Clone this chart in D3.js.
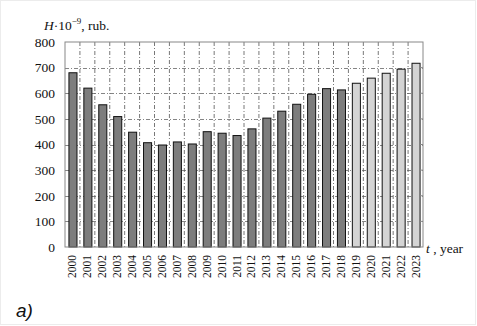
<!DOCTYPE html>
<html>
<head>
<meta charset="utf-8">
<script src="https://cdn.jsdelivr.net/npm/d3@7/dist/d3.min.js"></script>
<style>
  body { margin: 0; background: #fff; }
  svg { display: block; }
  svg text { font-family: "Liberation Serif", "DejaVu Serif", serif; }
  svg text.sans { font-family: "Liberation Sans", "DejaVu Sans", sans-serif; }
</style>
</head>
<body>
<script>
// years on the x axis
var years = ["2000","2001","2002","2003","2004","2005","2006","2007","2008","2009","2010","2011",
             "2012","2013","2014","2015","2016","2017","2018","2019","2020","2021","2022","2023"];
// H * 10^-9, rub.
var values = [680, 620, 555, 509, 448, 407, 398, 410, 402, 450, 444, 435,
              461, 503, 530, 557, 596, 618, 613, 639, 659, 678, 694, 717];
// first forecast year (lighter bars)
var forecastFrom = "2019";
var yTicks = [0, 100, 200, 300, 400, 500, 600, 700, 800];

var W = 477, H = 326;
var margin = {top: 42, right: 54, bottom: 79, left: 65},
    width = W - margin.left - margin.right,
    height = H - margin.top - margin.bottom;

var svg = d3.select("body").append("svg")
    .attr("width", W)
    .attr("height", H);

// faint frame of the picture
svg.append("rect")
    .attr("x", 0.5).attr("y", 0.5)
    .attr("width", W - 2).attr("height", H - 2)
    .attr("fill", "none")
    .attr("stroke", "#ececec");

var g = svg.append("g")
    .attr("transform", "translate(" + margin.left + "," + margin.top + ")");

var x = d3.scaleBand().domain(years).range([0, width]).paddingInner(0.46).paddingOuter(0.23);
var y = d3.scaleLinear().domain([0, 800]).range([height, 0]);

// band boundaries for vertical grid
var step = x.step();
var gridX = d3.range(1, years.length).map(function(i){ return i * step; });

// horizontal grid
g.selectAll(".hgrid")
    .data(yTicks.slice(1, -1))
    .enter().append("line")
    .attr("class", "hgrid")
    .attr("x1", 0).attr("x2", width)
    .attr("y1", function(d){ return Math.round(y(d)) + 0.5; })
    .attr("y2", function(d){ return Math.round(y(d)) + 0.5; })
    .attr("stroke", "#666")
    .attr("stroke-width", 0.8)
    .attr("stroke-dasharray", "4,2,1,2");

// vertical grid
g.selectAll(".vgrid")
    .data(gridX)
    .enter().append("line")
    .attr("class", "vgrid")
    .attr("x1", function(d){ return d; }).attr("x2", function(d){ return d; })
    .attr("y1", 0).attr("y2", height)
    .attr("stroke", "#555")
    .attr("stroke-width", 0.8)
    .attr("stroke-dasharray", "4,2,1,2");

// bars
g.selectAll(".bar")
    .data(years)
    .enter().append("rect")
    .attr("class", "bar")
    .attr("x", function(d){ return x(d) + 0.5; })
    .attr("y", function(d, i){ return y(values[i]); })
    .attr("width", x.bandwidth())
    .attr("height", function(d, i){ return height - y(values[i]); })
    .attr("fill", function(d){ return +d >= +forecastFrom ? "#d4d4d4" : "#7d7d7d"; })
    .attr("stroke", "#111")
    .attr("stroke-width", 1);

// plot frame
g.append("rect")
    .attr("x", 0).attr("y", 0)
    .attr("width", width).attr("height", height)
    .attr("fill", "none")
    .attr("stroke", "#888")
    .attr("stroke-width", 1);

// y axis
var yAxis = d3.axisLeft(y).tickValues(yTicks).tickSize(0).tickPadding(10);
var ya = g.append("g").call(yAxis).attr("font-family", null);
ya.select(".domain").remove();
ya.selectAll("text")
    .style("font-size", "13.5px")
    .attr("fill", "#111");

// small ticks on the right side
g.selectAll(".rtick")
    .data(yTicks.slice(1, -1))
    .enter().append("line")
    .attr("x1", width - 3).attr("x2", width)
    .attr("y1", function(d){ return y(d); })
    .attr("y2", function(d){ return y(d); })
    .attr("stroke", "#888");

// x axis labels, rotated
var xAxis = d3.axisBottom(x).tickSize(0).tickPadding(0);
var xa = g.append("g")
    .attr("transform", "translate(0," + height + ")")
    .call(xAxis)
    .attr("font-family", null);
xa.select(".domain").remove();
xa.selectAll("text")
    .style("font-size", "11.5px")
    .attr("fill", "#111")
    .attr("text-anchor", "end")
    .attr("dy", "0.35em")
    .attr("transform", "translate(0,8) rotate(-90)")
    .attr("x", 0).attr("y", 0);

// axis titles
var yt = svg.append("text")
    .attr("x", 44).attr("y", 30)
    .style("font-size", "13.5px")
    .attr("fill", "#111");
yt.append("tspan").attr("font-style", "italic").text("H");
yt.append("tspan").text("\u00b710");
yt.append("tspan").attr("dy", -6).style("font-size", "9px").text("\u22129");
yt.append("tspan").attr("dy", 6).text(", rub.");

var xt = svg.append("text")
    .attr("x", margin.left + width + 3).attr("y", height + margin.top + 6)
    .style("font-size", "13.5px")
    .attr("fill", "#111");
xt.append("tspan").attr("font-style", "italic").text("t");
xt.append("tspan").text(" , year");

// panel letter
svg.append("text")
    .attr("class", "sans")
    .attr("x", 16).attr("y", 317)
    .attr("font-style", "italic")
    .style("font-size", "19px")
    .attr("fill", "#111")
    .text("a)");
</script>
</body>
</html>
